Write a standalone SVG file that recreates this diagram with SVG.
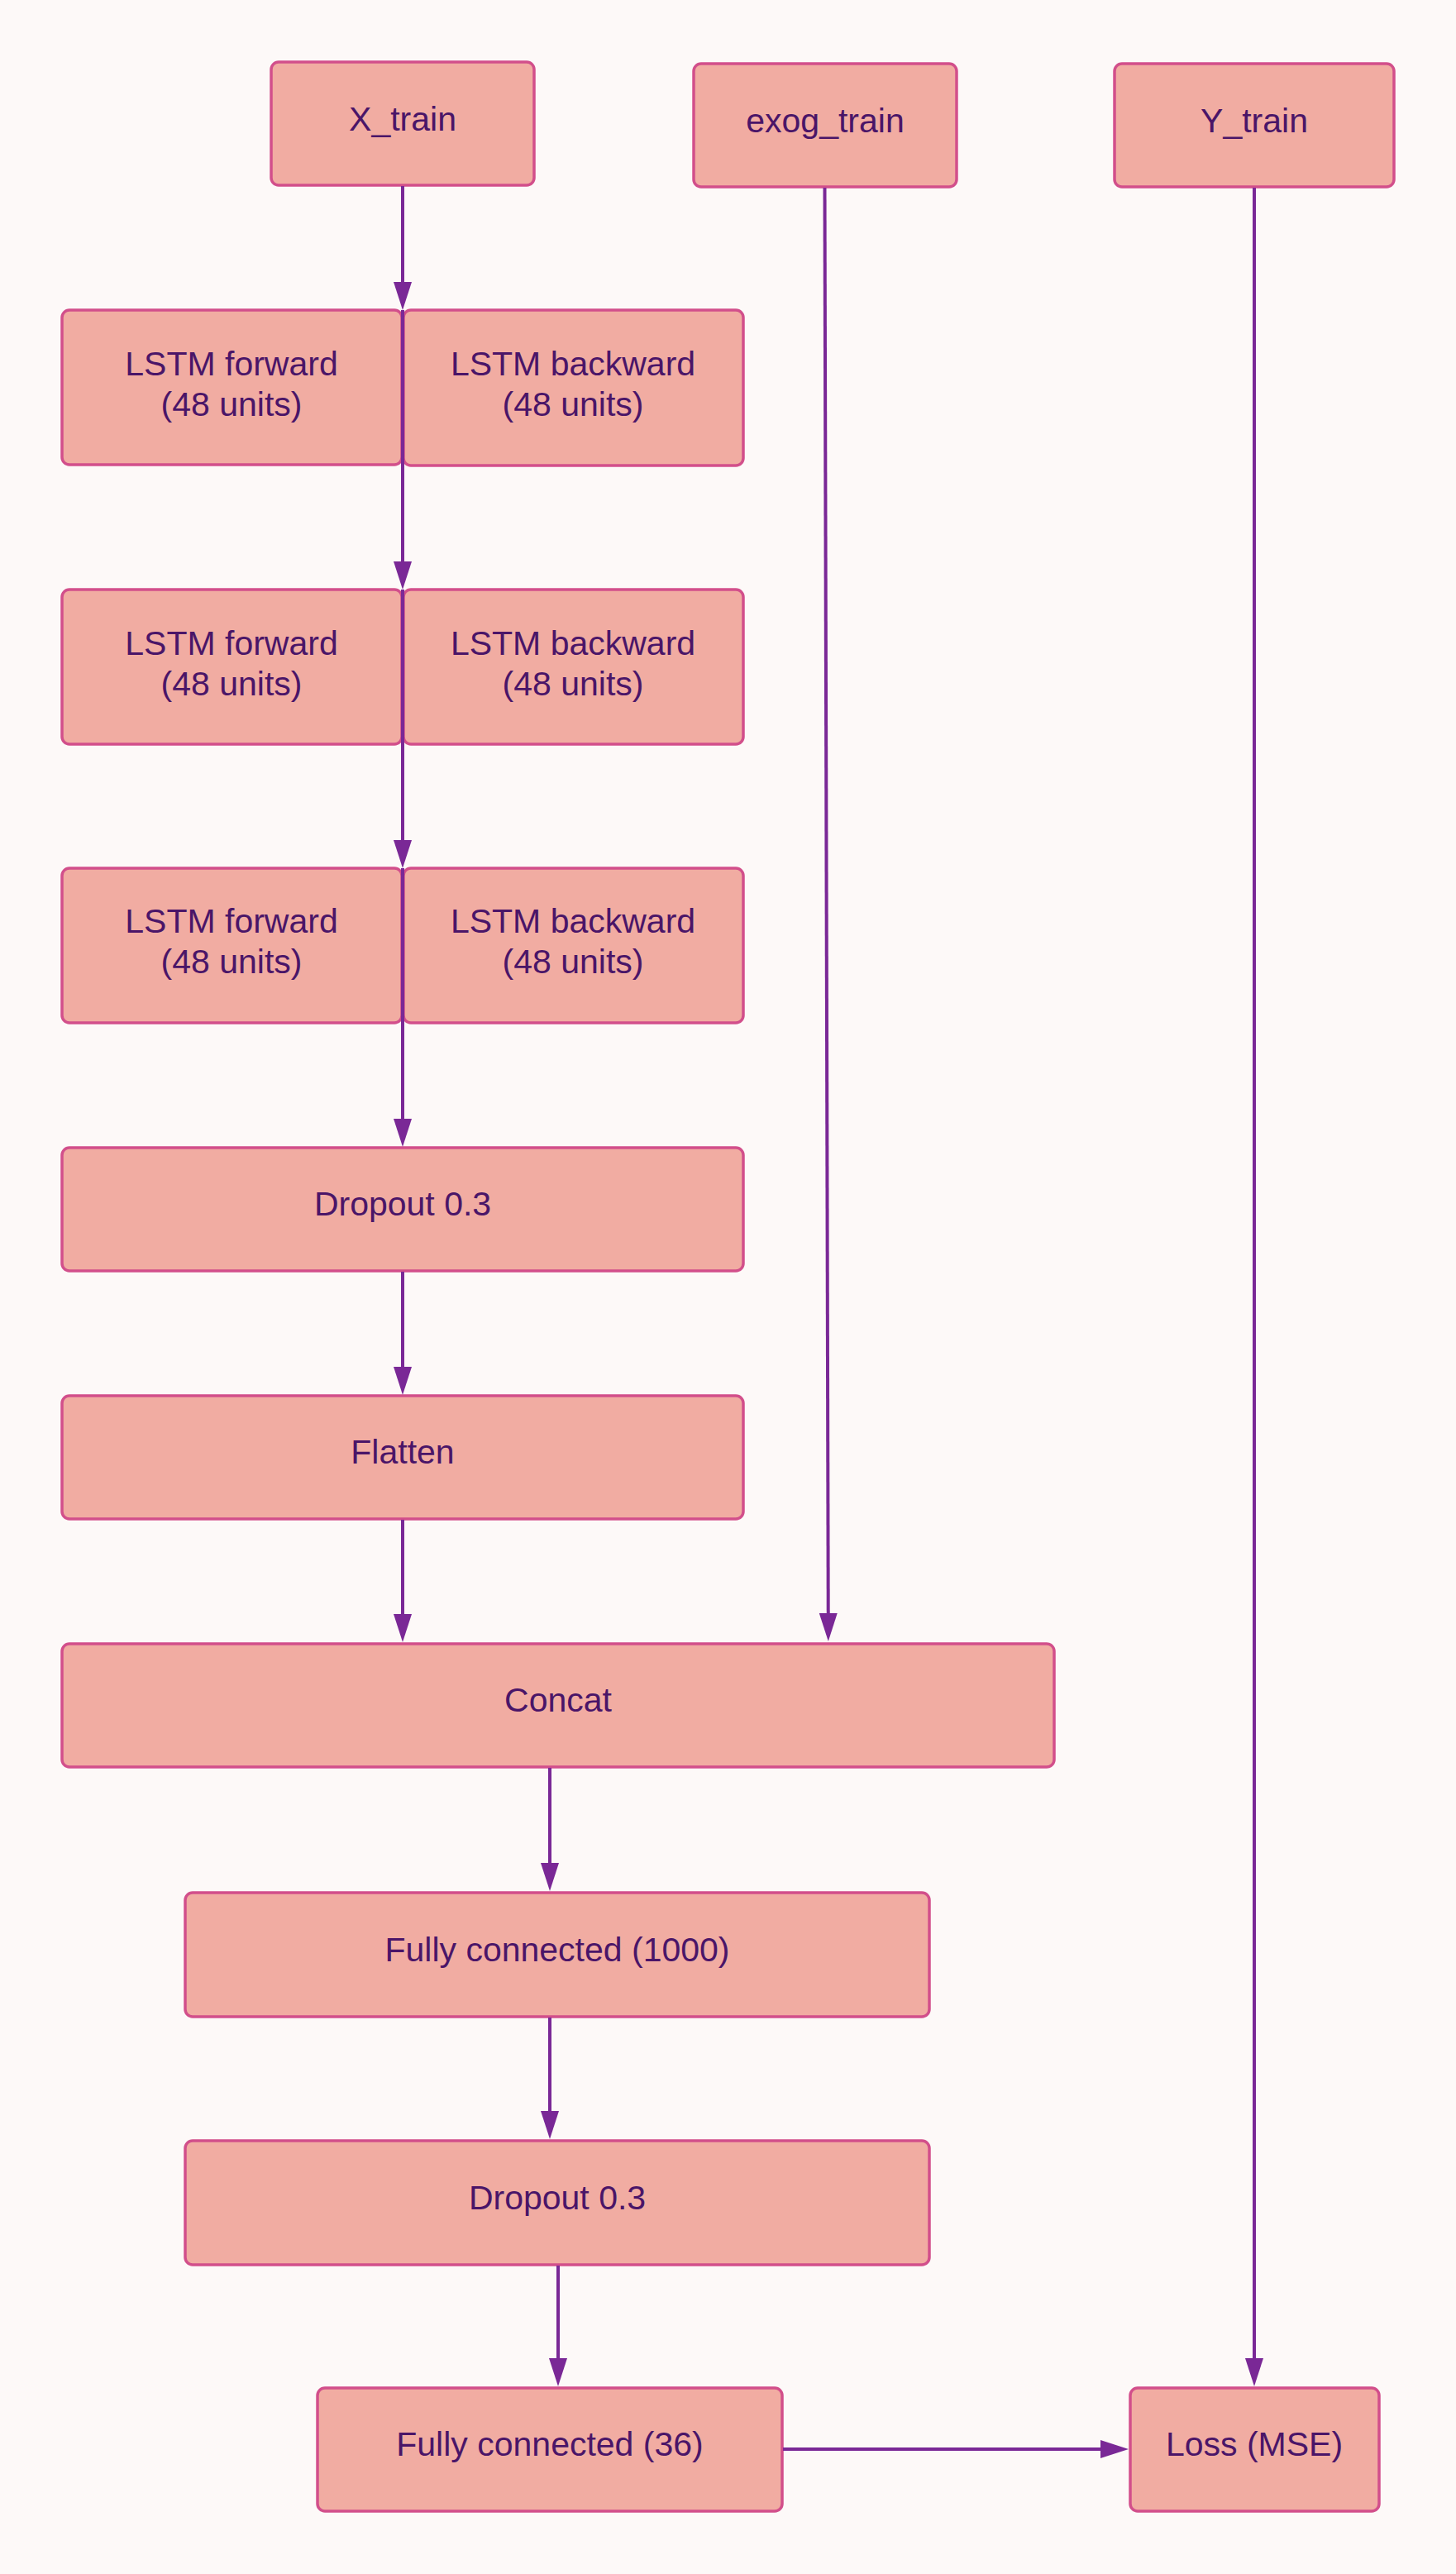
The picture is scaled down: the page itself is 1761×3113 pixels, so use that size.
<svg xmlns="http://www.w3.org/2000/svg" width="1761" height="3113" viewBox="0 0 1761 3113">
<defs>
<style>
.node rect{fill:#f1aca2;stroke:#d24f8b;stroke-width:3.5}
.node text{font-family:"Liberation Sans",Arial,sans-serif;font-size:41px;fill:#4a1568;text-anchor:middle}
.edge{stroke:#7a2896;stroke-width:4;fill:none}
</style>
<marker id="arr" markerUnits="userSpaceOnUse" markerWidth="34" markerHeight="22" refX="26" refY="11" orient="auto" viewBox="0 0 34 22">
<path d="M0,0 L34,11 L0,22 z" fill="#7a2896"/>
</marker>
</defs>
<rect x="0" y="0" width="1761" height="3113" fill="#fdf9f8"/>
<g id="n-xtrain" class="node"><rect x="328" y="75" width="318" height="149" rx="9"/><text x="487" y="158">X_train</text></g>
<g id="n-exog" class="node"><rect x="839" y="77" width="318" height="149" rx="9"/><text x="998" y="160">exog_train</text></g>
<g id="n-ytrain" class="node"><rect x="1348" y="77" width="338" height="149" rx="9"/><text x="1517" y="160">Y_train</text></g>
<g id="n-f1" class="node"><rect x="75" y="375" width="411" height="187" rx="9"/><text x="280" y="454">LSTM forward</text><text x="280" y="503">(48 units)</text></g>
<g id="n-b1" class="node"><rect x="488" y="375" width="411" height="188" rx="9"/><text x="693" y="454">LSTM backward</text><text x="693" y="503">(48 units)</text></g>
<g id="n-f2" class="node"><rect x="75" y="713" width="411" height="187" rx="9"/><text x="280" y="792">LSTM forward</text><text x="280" y="841">(48 units)</text></g>
<g id="n-b2" class="node"><rect x="488" y="713" width="411" height="187" rx="9"/><text x="693" y="792">LSTM backward</text><text x="693" y="841">(48 units)</text></g>
<g id="n-f3" class="node"><rect x="75" y="1050" width="411" height="187" rx="9"/><text x="280" y="1128">LSTM forward</text><text x="280" y="1177">(48 units)</text></g>
<g id="n-b3" class="node"><rect x="488" y="1050" width="411" height="187" rx="9"/><text x="693" y="1128">LSTM backward</text><text x="693" y="1177">(48 units)</text></g>
<g id="n-drop1" class="node"><rect x="75" y="1388" width="824" height="149" rx="9"/><text x="487" y="1470">Dropout 0.3</text></g>
<g id="n-flat" class="node"><rect x="75" y="1688" width="824" height="149" rx="9"/><text x="487" y="1770">Flatten</text></g>
<g id="n-concat" class="node"><rect x="75" y="1988" width="1200" height="149" rx="9"/><text x="675" y="2070">Concat</text></g>
<g id="n-fc1000" class="node"><rect x="224" y="2289" width="900" height="150" rx="9"/><text x="674" y="2372">Fully connected (1000)</text></g>
<g id="n-drop2" class="node"><rect x="224" y="2589" width="900" height="150" rx="9"/><text x="674" y="2672">Dropout 0.3</text></g>
<g id="n-fc36" class="node"><rect x="384" y="2888" width="562" height="149" rx="9"/><text x="665" y="2970">Fully connected (36)</text></g>
<g id="n-loss" class="node"><rect x="1367" y="2888" width="301" height="149" rx="9"/><text x="1517" y="2970">Loss (MSE)</text></g>
<g id="connectors">
<line class="edge" x1="487" y1="225" x2="487" y2="367" marker-end="url(#arr)"/>
<line class="edge" x1="487" y1="375" x2="487" y2="705" marker-end="url(#arr)"/>
<line class="edge" x1="487" y1="713" x2="487" y2="1042" marker-end="url(#arr)"/>
<line class="edge" x1="487" y1="1050" x2="487" y2="1379" marker-end="url(#arr)"/>
<line class="edge" x1="487" y1="1538" x2="487" y2="1679" marker-end="url(#arr)"/>
<line class="edge" x1="487" y1="1838" x2="487" y2="1978" marker-end="url(#arr)"/>
<line class="edge" x1="997.5" y1="227" x2="1001.8" y2="1977" marker-end="url(#arr)"/>
<line class="edge" x1="665" y1="2138" x2="665" y2="2279" marker-end="url(#arr)"/>
<line class="edge" x1="665" y1="2440" x2="665" y2="2579" marker-end="url(#arr)"/>
<line class="edge" x1="675" y1="2740" x2="675" y2="2878" marker-end="url(#arr)"/>
<line class="edge" x1="1517" y1="227" x2="1517" y2="2878" marker-end="url(#arr)"/>
<line class="edge" x1="947" y1="2962" x2="1357" y2="2962" marker-end="url(#arr)"/>
</g>
</svg>
